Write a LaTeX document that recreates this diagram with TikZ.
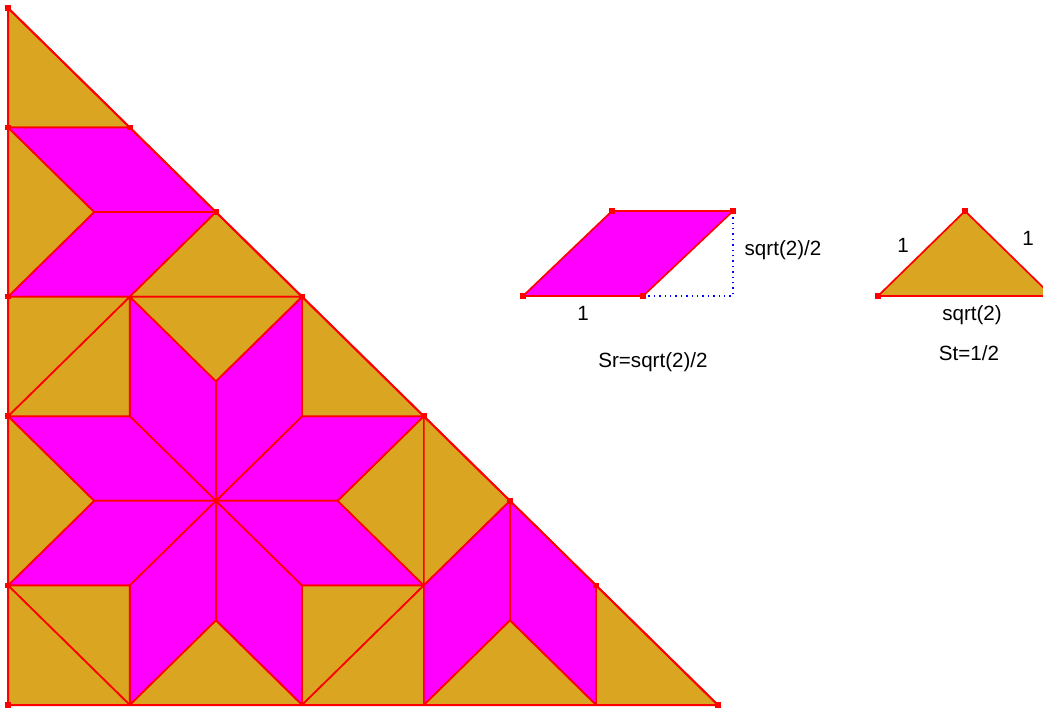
\documentclass[tikz,border=0pt]{standalone}
\usepackage{fontspec}
\setmainfont{Liberation Sans}
\definecolor{tgold}{RGB}{218,165,32}
\definecolor{tmag}{RGB}{255,0,255}
\definecolor{tred}{RGB}{255,0,0}
\definecolor{tblue}{RGB}{0,0,255}
\tikzset{
  gtile/.style={fill=tgold,draw=tred,line width=0.85pt,line join=round},
  mtile/.style={fill=tmag,draw=tred,line width=0.85pt,line join=round},
  pmark/.style={fill=tred,inner sep=0pt,minimum size=2.8pt,rectangle},
  lbl/.style={font=\fontsize{10.3}{12}\selectfont,inner sep=0pt,anchor=base,text=black},
  dotline/.style={draw=tblue,line width=0.7pt,dotted}
}
\begin{document}
\begin{tikzpicture}[x=0.5pt,y=-0.5pt]
\useasboundingbox (0,0) rectangle (1043,707);
\clip (0,0) rectangle (1043,707);
\begin{scope}[shift={(4pt,-352.5pt)},x=60.9pt,y=59.8pt]
% named points
\coordinate (T)   at (0,5.82843);
\coordinate (L1)  at (0,4.82843);
\coordinate (A1)  at (1,4.82843);
\coordinate (A2)  at (0.70711,4.12132);
\coordinate (A3)  at (1.70711,4.12132);
\coordinate (L2)  at (0,3.41421);
\coordinate (C)   at (1.70711,1.70711);
\coordinate (E)   at (2.70711,1.70711);
\coordinate (NE)  at (2.41421,2.41421);
\coordinate (N)   at (1.70711,2.70711);
\coordinate (NW)  at (1,2.41421);
\coordinate (W)   at (0.70711,1.70711);
\coordinate (SW)  at (1,1);
\coordinate (S)   at (1.70711,0.70711);
\coordinate (SE)  at (2.41421,1);
\coordinate (ENE) at (3.41421,2.41421);
\coordinate (NNE) at (2.41421,3.41421);
\coordinate (NNW) at (1,3.41421);
\coordinate (WNW) at (0,2.41421);
\coordinate (WSW) at (0,1);
\coordinate (SSW) at (1,0);
\coordinate (SSE) at (2.41421,0);
\coordinate (ESE) at (3.41421,1);
\coordinate (O)   at (0,0);
\coordinate (B0)  at (3.41421,0);
\coordinate (P)   at (4.12132,1.70711);
\coordinate (Q)   at (4.12132,0.70711);
\coordinate (R)   at (4.82843,1);
\coordinate (B1)  at (4.82843,0);
\coordinate (RV)  at (5.82843,0);
% top zone
\draw[gtile] (T) -- (L1) -- (A1) -- cycle;
\draw[mtile] (L1) -- (A1) -- (A3) -- (A2) -- cycle;
\draw[mtile] (A2) -- (A3) -- (NNW) -- (L2) -- cycle;
\draw[gtile] (L1) -- (A2) -- (L2) -- cycle;
\draw[gtile] (NNW) -- (A3) -- (NNE) -- cycle;
% star
\draw[mtile] (C) -- (E) -- (ENE) -- (NE) -- cycle;
\draw[mtile] (C) -- (NE) -- (NNE) -- (N) -- cycle;
\draw[mtile] (C) -- (N) -- (NNW) -- (NW) -- cycle;
\draw[mtile] (C) -- (NW) -- (WNW) -- (W) -- cycle;
\draw[mtile] (C) -- (W) -- (WSW) -- (SW) -- cycle;
\draw[mtile] (C) -- (SW) -- (SSW) -- (S) -- cycle;
\draw[mtile] (C) -- (S) -- (SSE) -- (SE) -- cycle;
\draw[mtile] (C) -- (SE) -- (ESE) -- (E) -- cycle;
\draw[gtile] (N) -- (NNE) -- (NNW) -- cycle;
\draw[gtile] (W) -- (WNW) -- (WSW) -- cycle;
\draw[gtile] (S) -- (SSW) -- (SSE) -- cycle;
\draw[gtile] (E) -- (ESE) -- (ENE) -- cycle;
\draw[gtile] (NW) -- (WNW) -- (NNW) -- cycle;
\draw[gtile] (L2) -- (WNW) -- (NNW) -- cycle;
\draw[gtile] (SW) -- (WSW) -- (SSW) -- cycle;
\draw[gtile] (O) -- (WSW) -- (SSW) -- cycle;
\draw[gtile] (SE) -- (SSE) -- (ESE) -- cycle;
\draw[gtile] (SSE) -- (B0) -- (ESE) -- cycle;
\draw[gtile] (NE) -- (NNE) -- (ENE) -- cycle;
% right zone
\draw[gtile] (ENE) -- (ESE) -- (P) -- cycle;
\draw[mtile] (ESE) -- (P) -- (Q) -- (B0) -- cycle;
\draw[mtile] (P) -- (R) -- (B1) -- (Q) -- cycle;
\draw[gtile] (B0) -- (Q) -- (B1) -- cycle;
\draw[gtile] (R) -- (B1) -- (RV) -- cycle;
% outline
\draw[draw=tred,line width=1pt] (T) -- (O) -- (RV) -- cycle;
% markers
\foreach \p in {T,L1,A1,A3,L2,NNE,WNW,ENE,WSW,P,R,RV,O}
  \node[pmark] at (\p) {};
\end{scope}
% small rhombus
\coordinate (r1) at (523,296);
\coordinate (r2) at (643,296);
\coordinate (r3) at (733,211);
\coordinate (r4) at (612,211);
\coordinate (rc) at (733,296);
\draw[dotline] (r2) -- (rc) -- (r3);
\draw[mtile] (r1) -- (r2) -- (r3) -- (r4) -- cycle;
\foreach \p in {r1,r2,r3,r4} \node[pmark] at (\p) {};
% small triangle
\coordinate (t1) at (878,296);
\coordinate (t2) at (965,211);
\coordinate (t3) at (1052,296);
\draw[gtile] (t1) -- (t2) -- (t3) -- cycle;
\foreach \p in {t1,t2,t3} \node[pmark] at (\p) {};
% labels
\node[lbl] (lh) at (783,255) {sqrt(2)/2};
\node[lbl] (l1) at (583,320) {1};
\node[lbl] (lsr) at (653,367) {Sr=sqrt(2)/2};
\node[lbl] (la) at (903,252) {1};
\node[lbl] (lb) at (1028,245) {1};
\node[lbl] (lc) at (972,320) {sqrt(2)};
\node[lbl] (lst) at (969,360) {St=1/2};
\end{tikzpicture}
\end{document}
